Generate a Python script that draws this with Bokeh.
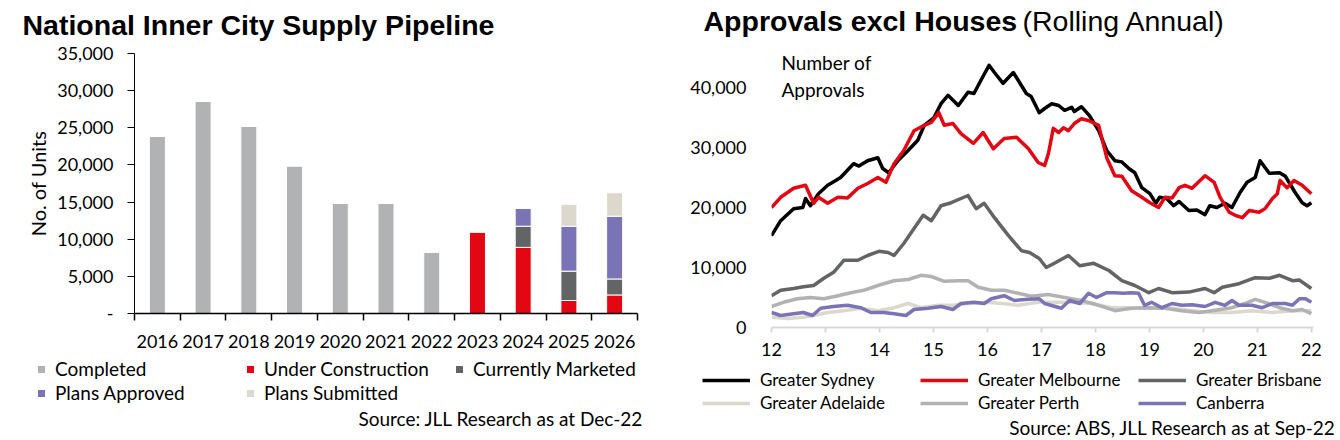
import numpy as np
from bokeh.plotting import figure
from bokeh.models import (Range1d, FixedTicker, NumeralTickFormatter, Label,
                          Legend, LegendItem, ColumnDataSource)
from bokeh.layouts import row, column
from bokeh.embed import file_html
from bokeh.resources import INLINE

# ---------------- Left chart data ----------------
years = ["2016", "2017", "2018", "2019", "2020", "2021", "2022", "2023", "2024", "2025", "2026"]
completed          = [23900, 28600, 25200, 19900, 14900, 14900, 8300, 0, 0, 0, 0]
under_construction = [0, 0, 0, 0, 0, 0, 0, 11000, 8900, 1750, 2500]
currently_marketed = [0, 0, 0, 0, 0, 0, 0, 0, 2850, 3950, 2150]
plans_approved     = [0, 0, 0, 0, 0, 0, 0, 0, 2400, 6050, 8450]
plans_submitted    = [0, 0, 0, 0, 0, 0, 0, 0, 0, 2950, 3150]
stack_names = ["Completed", "Under Construction", "Currently Marketed", "Plans Approved", "Plans Submitted"]
bar_colors = ["#B1B2B4", "#E30613", "#636466", "#7A73B5", "#DDD8CE"]
left_yticks = [0, 5000, 10000, 15000, 20000, 25000, 30000, 35000]

# ---------------- Right chart data (rolling annual approvals) ----------------
sydney_t = [12.0, 12.17, 12.41, 12.58, 12.63, 12.72, 12.87, 13.04, 13.19, 13.28, 13.52, 13.62, 13.78, 13.97,
            14.06, 14.17, 14.34, 14.53, 14.71, 14.83, 15.01, 15.14, 15.27, 15.46, 15.64, 15.75, 15.88, 16.03,
            16.13, 16.29, 16.48, 16.57, 16.72, 16.81, 16.96, 17.06, 17.19, 17.32, 17.43, 17.56, 17.61, 17.74,
            17.89, 18.06, 18.21, 18.36, 18.49, 18.62, 18.73, 18.86, 19.01, 19.12, 19.19, 19.32, 19.45, 19.55,
            19.73, 19.88, 20.03, 20.12, 20.25, 20.40, 20.53, 20.68, 20.81, 20.96, 21.05, 21.22, 21.41, 21.52,
            21.70, 21.83, 21.92, 22.0]
sydney_v = [15300, 17800, 19800, 20000, 21500, 20300, 22300, 23700, 24500, 25000, 27300, 26900, 27800, 28300,
            26500, 25800, 27800, 29500, 31200, 33700, 35000, 37300, 38700, 37000, 39200, 39000, 41200, 43700,
            42500, 40700, 42500, 41200, 39000, 38500, 35800, 36500, 37300, 37000, 36200, 36700, 36000, 36800,
            35300, 32800, 29500, 27800, 27600, 26500, 25800, 23300, 22300, 20700, 21700, 21500, 20300, 21000,
            19500, 19600, 18800, 20300, 20000, 20700, 20000, 22500, 24200, 25000, 27800, 25700, 25800, 25200,
            22500, 20800, 20300, 20800]

melbourne_t = [12.0, 12.17, 12.41, 12.63, 12.78, 12.87, 13.04, 13.23, 13.41, 13.60, 13.78, 13.97, 14.12, 14.27,
               14.45, 14.64, 14.83, 14.96, 15.10, 15.20, 15.36, 15.51, 15.74, 15.92, 16.11, 16.31, 16.54, 16.76,
               16.94, 17.06, 17.13, 17.22, 17.32, 17.41, 17.50, 17.61, 17.74, 17.87, 18.06, 18.21, 18.36, 18.49,
               18.67, 18.86, 19.01, 19.17, 19.29, 19.42, 19.55, 19.66, 19.79, 20.03, 20.20, 20.31, 20.48, 20.59,
               20.72, 20.85, 21.03, 21.14, 21.28, 21.37, 21.42, 21.55, 21.68, 21.83, 22.0]
melbourne_v = [20000, 21700, 23200, 23700, 20700, 21700, 20700, 21700, 21600, 23200, 24000, 25000, 24200, 27300,
               29500, 32800, 33700, 34200, 35800, 33700, 34000, 32300, 30700, 32500, 29800, 31500, 31700, 29800,
               27500, 27000, 29000, 33200, 32500, 33300, 32800, 34000, 34800, 34500, 33700, 28300, 25300, 25200,
               22800, 21700, 20800, 20000, 21700, 21600, 23300, 23700, 23200, 25300, 24200, 21700, 19200, 18700,
               18300, 19500, 19200, 19800, 21500, 22300, 24500, 23300, 24500, 23700, 22300]

brisbane_t = [12.0, 12.17, 12.41, 12.59, 12.78, 12.97, 13.15, 13.34, 13.60, 13.78, 13.99, 14.16, 14.27, 14.45,
              14.64, 14.81, 14.96, 15.14, 15.33, 15.51, 15.64, 15.79, 15.94, 16.13, 16.39, 16.63, 16.78, 16.96,
              17.09, 17.24, 17.50, 17.71, 17.97, 18.25, 18.49, 18.73, 18.99, 19.17, 19.42, 19.73, 20.03, 20.20,
              20.35, 20.66, 20.96, 21.22, 21.41, 21.65, 21.78, 22.0]
brisbane_v = [5300, 6200, 6500, 6800, 7000, 8200, 9200, 11200, 11200, 12000, 12700, 12500, 12000, 14000,
              16500, 18700, 17800, 20300, 20800, 21500, 22000, 19800, 20700, 18300, 15300, 12800, 12500, 11500,
              10000, 10700, 12000, 10300, 10700, 9500, 7800, 7000, 5800, 6500, 5800, 5900, 6500, 5800,
              6700, 7300, 8300, 8200, 8700, 7800, 7900, 6500]

adelaide_t = [12.0, 12.30, 12.59, 12.78, 13.04, 13.34, 13.65, 13.97, 14.27, 14.53, 14.77, 15.09, 15.38, 15.64,
              16.01, 16.26, 16.57, 16.94, 17.19, 17.56, 17.93, 18.30, 18.67, 19.04, 19.42, 19.79, 20.16, 20.53,
              20.90, 21.28, 21.65, 22.0]
adelaide_v = [1700, 1500, 1700, 2000, 2500, 2800, 3200, 2800, 3300, 4000, 3300, 3700, 3700, 4000,
              4200, 4000, 3700, 4200, 4200, 4200, 4000, 3300, 3300, 3200, 3200, 2800, 2500, 2500,
              2800, 2500, 2800, 2800]

perth_t = [12.0, 12.22, 12.48, 12.72, 12.97, 13.23, 13.47, 13.71, 13.97, 14.27, 14.53, 14.77, 14.96, 15.20,
           15.46, 15.64, 15.83, 16.07, 16.31, 16.57, 16.81, 17.13, 17.43, 17.74, 18.06, 18.36, 18.67, 18.99,
           19.29, 19.60, 19.92, 20.16, 20.53, 20.77, 20.96, 21.14, 21.41, 21.65, 21.83, 22.0]
perth_v = [3500, 4200, 4800, 5000, 4800, 5300, 5800, 6200, 7000, 7800, 8000, 8700, 8500, 7700,
           7800, 7800, 6700, 6200, 6200, 5700, 5200, 5500, 5000, 4500, 3700, 2800, 3200, 3300,
           3200, 2800, 2500, 2800, 3300, 4000, 4700, 4200, 3300, 2800, 3000, 2300]

canberra_t = [12.0, 12.17, 12.41, 12.59, 12.76, 12.91, 13.15, 13.41, 13.65, 13.84, 14.08, 14.27, 14.49, 14.64,
              14.90, 15.14, 15.36, 15.51, 15.75, 15.94, 16.07, 16.31, 16.50, 16.76, 16.96, 17.06, 17.37, 17.52,
              17.71, 17.87, 18.02, 18.21, 18.36, 18.52, 18.67, 18.80, 18.91, 19.04, 19.23, 19.42, 19.60, 19.79,
              20.03, 20.22, 20.40, 20.53, 20.66, 20.90, 21.09, 21.28, 21.52, 21.65, 21.78, 21.89, 22.0]
canberra_v = [2500, 2000, 2300, 2500, 2000, 3200, 3500, 3700, 3300, 2500, 2500, 2300, 2000, 3000,
              3200, 3500, 3000, 4000, 4200, 4000, 4800, 5300, 4500, 4700, 4800, 4000, 3200, 4500,
              4000, 5700, 5000, 5800, 5800, 5700, 5800, 5700, 3700, 4200, 3300, 4000, 3700, 3800,
              3500, 4200, 3700, 4500, 3700, 3700, 3300, 4000, 4000, 3700, 4800, 4800, 4200]

series_names = ["Greater Sydney", "Greater Melbourne", "Greater Brisbane", "Greater Adelaide", "Greater Perth", "Canberra"]
series_t = [sydney_t, melbourne_t, brisbane_t, adelaide_t, perth_t, canberra_t]
series_v = [sydney_v, melbourne_v, brisbane_v, adelaide_v, perth_v, canberra_v]
line_colors = ["#000000", "#E30613", "#636466", "#DDD8CE", "#B2B2B2", "#7A73B5"]
right_yticks = [0, 10000, 20000, 30000, 40000]
right_xticks = [12, 13, 14, 15, 16, 17, 18, 19, 20, 21, 22]

FONT = "Lato"
TFONT = "Liberation Sans"
W = 670


def blank(h, xr=(0, 1), yr=(0, 1)):
    """A figure whose frame fills the whole canvas (for titles, legends, sources)."""
    f = figure(width=W, height=h, min_border_left=0, min_border_right=0, min_border_top=0,
               min_border_bottom=0, x_range=Range1d(*xr), y_range=Range1d(*yr),
               x_axis_location=None, y_axis_location=None, frame_align=False,
               output_backend="svg", toolbar_location=None)
    f.outline_line_color = None
    f.grid.visible = False
    f.background_fill_color = "white"
    f.border_fill_color = "white"
    return f


def make_legend(items, loc, font_size, gw, gh, standoff, lw, spacing):
    return Legend(items=items, orientation="horizontal", location=loc,
                  label_text_font=FONT, label_text_font_size=font_size, label_text_color="black",
                  glyph_width=gw, glyph_height=gh, label_standoff=standoff, label_width=lw,
                  spacing=spacing, padding=0, margin=0, border_line_color=None,
                  background_fill_alpha=0)


# ================= Left chart =================
lt = blank(42)
lt.add_layout(Label(x=22, y=18, x_units="screen", y_units="screen",
                    text="National Inner City Supply Pipeline", text_font=TFONT,
                    text_font_style="bold", text_font_size="28.5px", text_baseline="middle",
                    text_color="black"))

p1 = figure(frame_width=503, frame_height=260, min_border_left=134, min_border_right=33,
            min_border_top=11, min_border_bottom=45, frame_align=False,
            x_range=Range1d(0.5, 11.5), y_range=Range1d(0, 35000),
            output_backend="svg", toolbar_location=None)
p1.outline_line_color = None
p1.grid.visible = False
p1.background_fill_color = "white"
p1.border_fill_color = "white"

pos = list(range(1, len(years) + 1))
src = ColumnDataSource(dict(x=pos, Completed=completed, UC=under_construction, CM=currently_marketed,
                            PA=plans_approved, PS=plans_submitted))
keys = ["Completed", "UC", "CM", "PA", "PS"]
p1.vbar_stack(keys, x="x", width=0.35, fill_color=bar_colors, line_color="white",
              line_width=1, source=src)

xa = p1.xaxis[0]
xa.ticker = FixedTicker(ticks=pos, minor_ticks=[i + 0.5 for i in range(0, len(years) + 1)])
xa.major_label_overrides = {i: y for i, y in zip(pos, years)}
xa.major_tick_out = 0
xa.major_tick_in = 0
xa.minor_tick_out = 7
xa.minor_tick_in = 0
xa.minor_tick_line_color = "black"
xa.minor_tick_line_width = 1.5
xa.axis_line_color = "black"
xa.axis_line_width = 1.5
xa.major_label_text_font = FONT
xa.major_label_text_font_size = "18px"
xa.major_label_text_color = "black"
xa.major_label_standoff = 14

ya = p1.yaxis[0]
ya.ticker = FixedTicker(ticks=left_yticks)
ya.formatter = NumeralTickFormatter(format="0,0")
ya.major_label_overrides = {0: "-"}
ya.major_tick_out = 7
ya.major_tick_in = 0
ya.minor_tick_line_color = None
ya.axis_line_color = "black"
ya.major_tick_line_color = "black"
ya.major_label_text_font = FONT
ya.major_label_text_font_size = "18px"
ya.major_label_text_color = "black"
ya.major_label_standoff = 14
ya.axis_label = "No. of Units"
ya.axis_label_text_font = FONT
ya.axis_label_text_font_size = "20px"
ya.axis_label_text_font_style = "normal"
ya.axis_label_text_color = "black"
ya.axis_label_standoff = 4

# legend strip: same stacked bars, kept out of this strip's visible range
lb = blank(82, xr=(-5, -4))
lb_rs = lb.vbar_stack(keys, x="x", width=0.35, fill_color=bar_colors, line_color="white",
                      line_width=1, source=src)
litems = [LegendItem(label=n, renderers=[r]) for n, r in zip(stack_names, lb_rs)]
lb.add_layout(make_legend(litems[:3], (36, 60), "19px", 10, 10, 9, 180, 10))
lb.add_layout(make_legend(litems[3:], (36, 36), "19px", 10, 10, 9, 180, 10))
lb.add_layout(Label(x=643, y=22, x_units="screen", y_units="screen",
                    text="Source: JLL Research as at Dec-22", text_font=FONT,
                    text_font_size="19px", text_align="right", text_baseline="middle",
                    text_color="black"))

# ================= Right chart =================
rt = blank(41)
rt.add_layout(Label(x=33, y=21, x_units="screen", y_units="screen",
                    text="Approvals excl Houses", text_font=TFONT, text_font_style="bold",
                    text_font_size="28.5px", text_baseline="middle", text_color="black"))
rt.add_layout(Label(x=352, y=21, x_units="screen", y_units="screen",
                    text="(Rolling Annual)", text_font=TFONT, text_font_style="normal",
                    text_font_size="28.5px", text_baseline="middle", text_color="black"))

p2 = figure(frame_width=542, frame_height=282, min_border_left=101, min_border_right=27,
            min_border_top=4, min_border_bottom=38, frame_align=False,
            x_range=Range1d(12, 22.04), y_range=Range1d(0, 47000),
            output_backend="svg", toolbar_location=None)
p2.outline_line_color = None
p2.grid.visible = False
p2.background_fill_color = "white"
p2.border_fill_color = "white"

for t, v, c in zip(series_t, series_v, line_colors):
    p2.line(t, v, line_color=c, line_width=3.5, line_join="round")

xb = p2.xaxis[0]
xb.ticker = FixedTicker(ticks=right_xticks)
xb.axis_line_color = "#D9D9D9"
xb.axis_line_width = 2
xb.major_tick_line_color = "#D9D9D9"
xb.major_tick_line_width = 2
xb.major_tick_out = 5
xb.major_tick_in = 0
xb.minor_tick_line_color = None
xb.major_label_text_font = FONT
xb.major_label_text_font_size = "18px"
xb.major_label_text_color = "black"
xb.major_label_standoff = 10

yb = p2.yaxis[0]
yb.ticker = FixedTicker(ticks=right_yticks)
yb.formatter = NumeralTickFormatter(format="0,0")
yb.axis_line_color = None
yb.major_tick_line_color = None
yb.minor_tick_line_color = None
yb.major_label_text_font = FONT
yb.major_label_text_font_size = "18px"
yb.major_label_text_color = "black"
yb.major_label_standoff = 19

p2.add_layout(Label(x=10, y=277, x_units="screen", y_units="screen",
                    text="Number of\nApprovals", text_font=FONT, text_font_size="19px",
                    text_baseline="top", text_color="black"))

# legend strip: same lines, kept out of this strip's visible range
rb = blank(75)
rb_rs = [rb.line(t, v, line_color=c, line_width=3.5) for t, v, c in zip(series_t, series_v, line_colors)]
ritems = [LegendItem(label=n, renderers=[r]) for n, r in zip(series_names, rb_rs)]
rb.add_layout(make_legend(ritems[:3], (32, 50), "17px", 48, 20, 10, 150, 10))
rb.add_layout(make_legend(ritems[3:], (32, 27), "17px", 48, 20, 10, 150, 10))
rb.add_layout(Label(x=666, y=13, x_units="screen", y_units="screen",
                    text="Source: ABS, JLL Research as at Sep-22", text_font=FONT,
                    text_font_size="19px", text_align="right", text_baseline="middle",
                    text_color="black"))

layout = row(column(lt, p1, lb), column(rt, p2, rb))
open("out.html", "w").write(file_html(layout, INLINE))
